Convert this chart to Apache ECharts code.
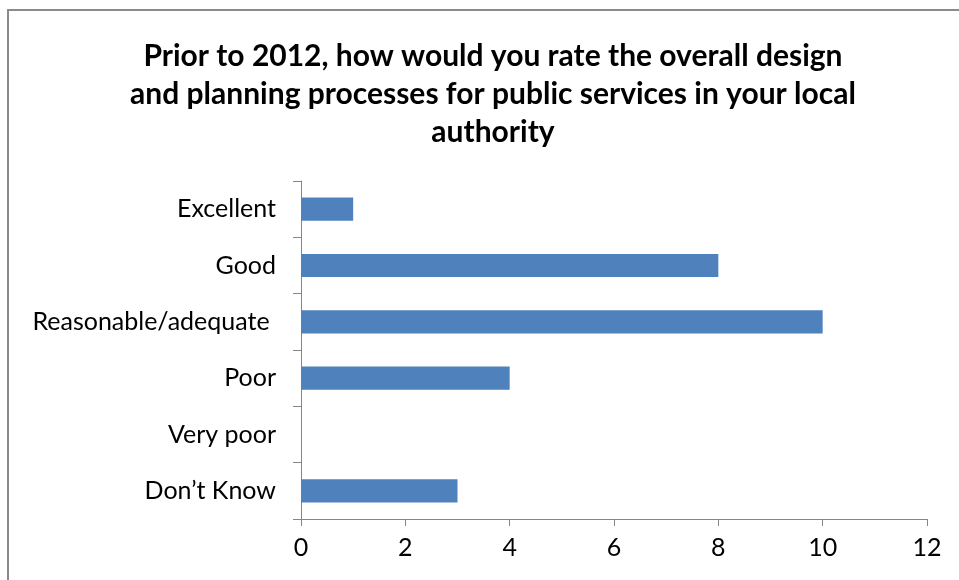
<!DOCTYPE html>
<html>
<head>
<meta charset="utf-8">
<script src="https://cdn.jsdelivr.net/npm/echarts@6/dist/echarts.min.js"></script>
<style>
    html, body { margin: 0; padding: 0; background: #fff; }
    #chart { width: 959px; height: 580px; }
</style>
</head>
<body>
<div id="chart"></div>
<script>
// ratings, top to bottom as in the chart
var categories = ['Excellent', 'Good', 'Reasonable/adequate ', 'Poor', 'Very poor', 'Don\u2019t Know'];
var counts = [1, 8, 10, 4, 0, 3];
var titleText = 'Prior to 2012, how would you rate the overall design\nand planning processes for public services in your local\nauthority';

var myChart = echarts.init(document.getElementById('chart'));

var axisColor = '#868686';
var fontFamily = 'Lato, "Liberation Sans", sans-serif';

var option = {
    animation: false,
    backgroundColor: '#fff',
    // frame round the chart area
    graphic: [{
        type: 'rect',
        shape: { x: 8, y: 10, width: 1000, height: 700 },
        style: { fill: 'none', stroke: '#8a8a8a', lineWidth: 2 },
        silent: true
    }],
    title: {
        text: titleText,
        left: 488,
        top: 32,
        textAlign: 'center',
        textStyle: {
            fontFamily: fontFamily,
            fontWeight: 'bold',
            fontSize: 30,
            lineHeight: 38,
            color: '#000'
        }
    },
    grid: {
        left: 301,
        right: 32,
        top: 181,
        bottom: 61,
        containLabel: false
    },
    xAxis: {
        type: 'value',
        min: 0,
        max: 12,
        interval: 2,
        splitLine: { show: false },
        axisLine: { show: true, lineStyle: { color: axisColor, width: 1 } },
        axisTick: { show: true, length: 7, lineStyle: { color: axisColor } },
        axisLabel: {
            margin: 16,
            fontFamily: fontFamily,
            fontSize: 25,
            color: '#000'
        }
    },
    yAxis: {
        type: 'category',
        inverse: true,
        data: categories,
        axisLine: { show: true, lineStyle: { color: axisColor, width: 1 } },
        axisTick: { show: true, length: 8, alignWithLabel: false, lineStyle: { color: axisColor } },
        axisLabel: {
            margin: 25,
            fontFamily: fontFamily,
            fontSize: 25,
            color: '#000'
        }
    },
    series: [{
        type: 'bar',
        data: counts,
        barWidth: '41%',
        itemStyle: { color: '#4F81BD' }
    }]
};

myChart.setOption(option);
</script>
</body>
</html>
